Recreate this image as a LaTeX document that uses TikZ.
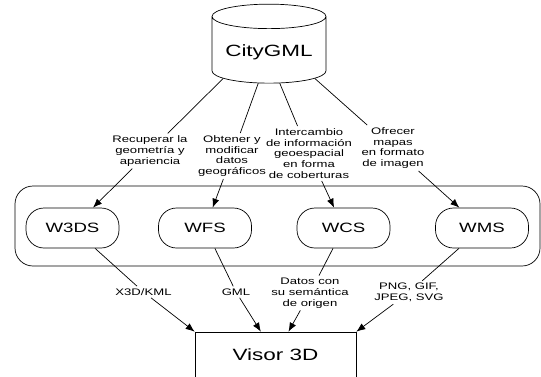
\documentclass[tikz,border=0pt]{standalone}
\usepackage{fontspec}
\setmainfont{Liberation Sans}[FakeStretch=1.38]
\usetikzlibrary{shapes.geometric}
\usetikzlibrary{arrows.meta}

\tikzset{
	svc/.style = {draw, rounded corners = 18pt, minimum width = 93pt, minimum height = 40pt, font = \fontsize{13.5}{15}\selectfont},
	lbl/.style = {align = center, inner sep = 2pt, font = \fontsize{9.5}{10.8}\selectfont},
	flow/.style = {-{Latex[length = 9pt, width = 7pt]}}
}

\begin{document}
\begin{tikzpicture}[x = 1pt, y = -1pt, line width = 0.7pt]
	\useasboundingbox (0, 0) rectangle (541, 376);

	\node[cylinder, draw, shape border rotate = 90, aspect = 0.26, minimum width = 114pt, minimum height = 79pt, font = \fontsize{16.3}{18}\selectfont] (db) at (269, 52) {CityGML};
	\node[draw, rounded corners = 18pt, minimum width = 525pt, minimum height = 80pt] (grp) at (277.5, 226) {};
	\node[draw, minimum width = 161pt, minimum height = 46pt, font = \fontsize{16.3}{18}\selectfont] (visor) at (275.5, 355) {Visor 3D};

	\foreach \n/\x/\t in {w3ds/72.5/W3DS, wfs/205/WFS, wcs/343.5/WCS, wms/482/WMS}
	\node[svc] (\n) at (\x, 228) {\t};

	\node[lbl] (rec) at (150, 151) {Recuperar la\\geometría y\\apariencia};
	\node[lbl] (obt) at (232, 156) {Obtener y\\modificar\\datos\\geográficos};
	\node[lbl] (int) at (309, 153.5) {Intercambio\\de información\\geoespacial\\en forma\\de coberturas};
	\node[lbl] (ofr) at (393, 148) {Ofrecer\\mapas\\en formato\\de imagen};

	\node[lbl] (x3d) at (143.5, 292) {X3D/KML};
	\node[lbl] (gml) at (236, 292) {GML};
	\node[lbl] (dat) at (310, 293) {Datos con\\su semántica\\de origen};
	\node[lbl] (png) at (409, 292.5) {PNG, GIF,\\JPEG, SVG};

	\draw (db.210) -- (rec);
	\draw (db.251) -- (obt);
	\draw (db.289) -- (int);
	\draw (db.330) -- (ofr);
	\draw[flow] (rec) -- (w3ds);
	\draw[flow] (obt) -- (wfs);
	\draw[flow] (int) -- (wcs);
	\draw[flow] (ofr) -- (wms);

	\draw (w3ds) -- (x3d);
	\draw (wfs) -- (gml);
	\draw (wcs) -- (dat);
	\draw (wms) -- (png);
	\draw[flow] (x3d) -- (visor.north west);
	\draw[flow] (gml) -- (visor);
	\draw[flow] (dat) -- (visor);
	\draw[flow] (png) -- (visor.north east);
\end{tikzpicture}
\end{document}
